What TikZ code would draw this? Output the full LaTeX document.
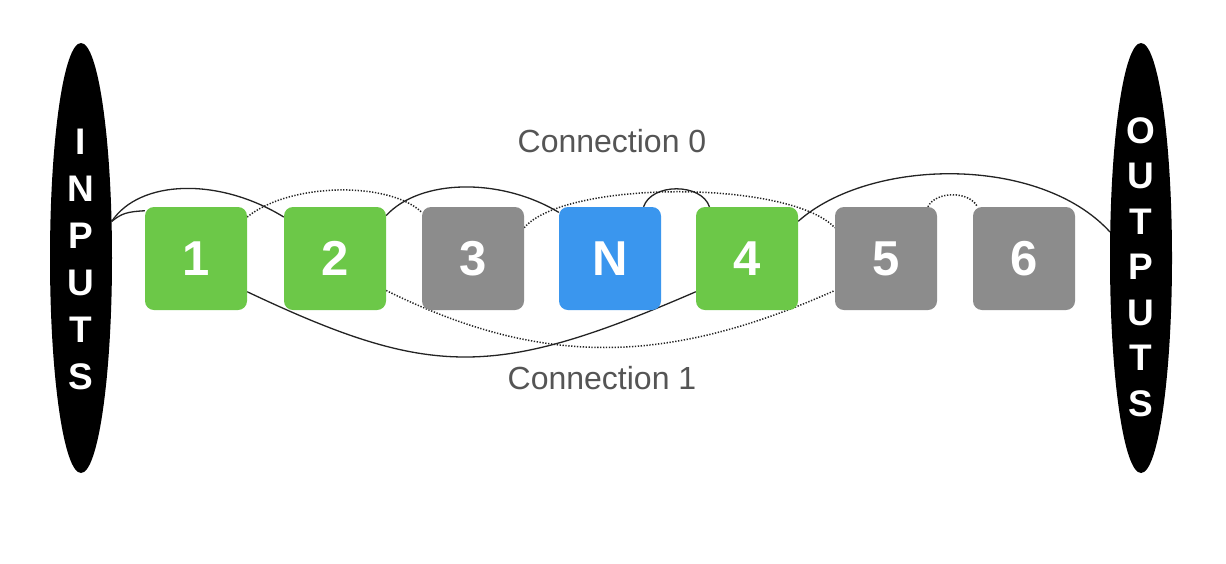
\documentclass[tikz,border=0pt]{standalone}
\usepackage{fontspec}
\setmainfont{Liberation Sans}
\usetikzlibrary{shapes.geometric,backgrounds}
\definecolor{boxgreen}{RGB}{108,200,72}
\definecolor{boxblue}{RGB}{58,150,238}
\definecolor{boxgray}{RGB}{140,140,140}
\definecolor{labelgray}{RGB}{85,85,85}
\definecolor{wire}{RGB}{35,35,35}
\begin{document}
\begin{tikzpicture}[x=1pt,y=-1pt,
  cell/.style={rounded corners=9pt, minimum width=102pt, minimum height=103pt, inner sep=0pt, text=white, font=\fontsize{49}{49}\selectfont\bfseries},
  portal/.style={ellipse, fill=black, minimum width=62pt, minimum height=430pt, inner sep=0pt},
  portaltext/.style={text=white, align=center, inner sep=0pt},
  conn/.style={draw=wire, line width=1.3pt},
  weak/.style={draw=wire, line width=1.5pt, dash pattern=on 1.3pt off 1.6pt},
  caption/.style={text=labelgray, font=\fontsize{32}{32}\selectfont}]
\useasboundingbox (0,0) rectangle (1226,563);

% end portals
\node[portal] (inp) at (81,258) {};
\node[portal] (out) at (1141,258) {};
\node[portaltext, font=\fontsize{37}{47}\selectfont\bfseries] (inptxt) at (81,259) {I\\N\\P\\U\\T\\S};
\node[portaltext, font=\fontsize{37}{45.5}\selectfont\bfseries] (outtxt) at (1141,267) {O\\U\\T\\P\\U\\T\\S};

% cells
\node[cell, fill=boxgreen] (b1) at (196,258.5) {1};
\node[cell, fill=boxgreen] (b2) at (335,258.5) {2};
\node[cell, fill=boxgray]  (b3) at (473,258.5) {3};
\node[cell, fill=boxblue]  (bN) at (610,258.5) {N};
\node[cell, fill=boxgreen] (b4) at (747,258.5) {4};
\node[cell, fill=boxgray]  (b5) at (886,258.5) {5};
\node[cell, fill=boxgray]  (b6) at (1024,258.5) {6};

% captions
\node[caption] (c0) at (612,141.5) {Connection 0};
\node[caption] (c1) at (602,378) {Connection 1};

\begin{scope}[on background layer]
\fill[white] (0,0) rectangle (1226,563);
% connection 0 (top)
\draw[conn] (inp.50) .. controls +(10,-8) and +(-18,1) .. (b1.137);
\draw[conn] (inp.50) .. controls +(28,-42) and +(-65,-40) .. (b2.141);
\draw[weak] (b1.39) .. controls +(43,-35) and +(-32,-31) .. (b3.138);
\draw[conn] (b2.40) .. controls +(34,-37) and +(-58,-35) .. (bN.138);
\draw[weak] (b3.31) .. controls +(41,-48) and +(-45,-48) .. (b5.149);
\draw[conn] (bN.57) .. controls +(8,-24) and +(-8,-24) .. (b4.126);
\draw[conn] (b4.36) .. controls +(72,-64) and +(-70,-77) .. (out.140);
\draw[weak] (b5.51) .. controls +(8,-16) and +(-8,-16) .. (b6.132);
% connection 1 (bottom)
\draw[conn] (b1.-33) .. controls +(184,87) and +(-201,87) .. (b4.213);
\draw[weak] (b2.-32) .. controls +(154,76) and +(-170,76) .. (b5.212);
\end{scope}
\end{tikzpicture}
\end{document}
